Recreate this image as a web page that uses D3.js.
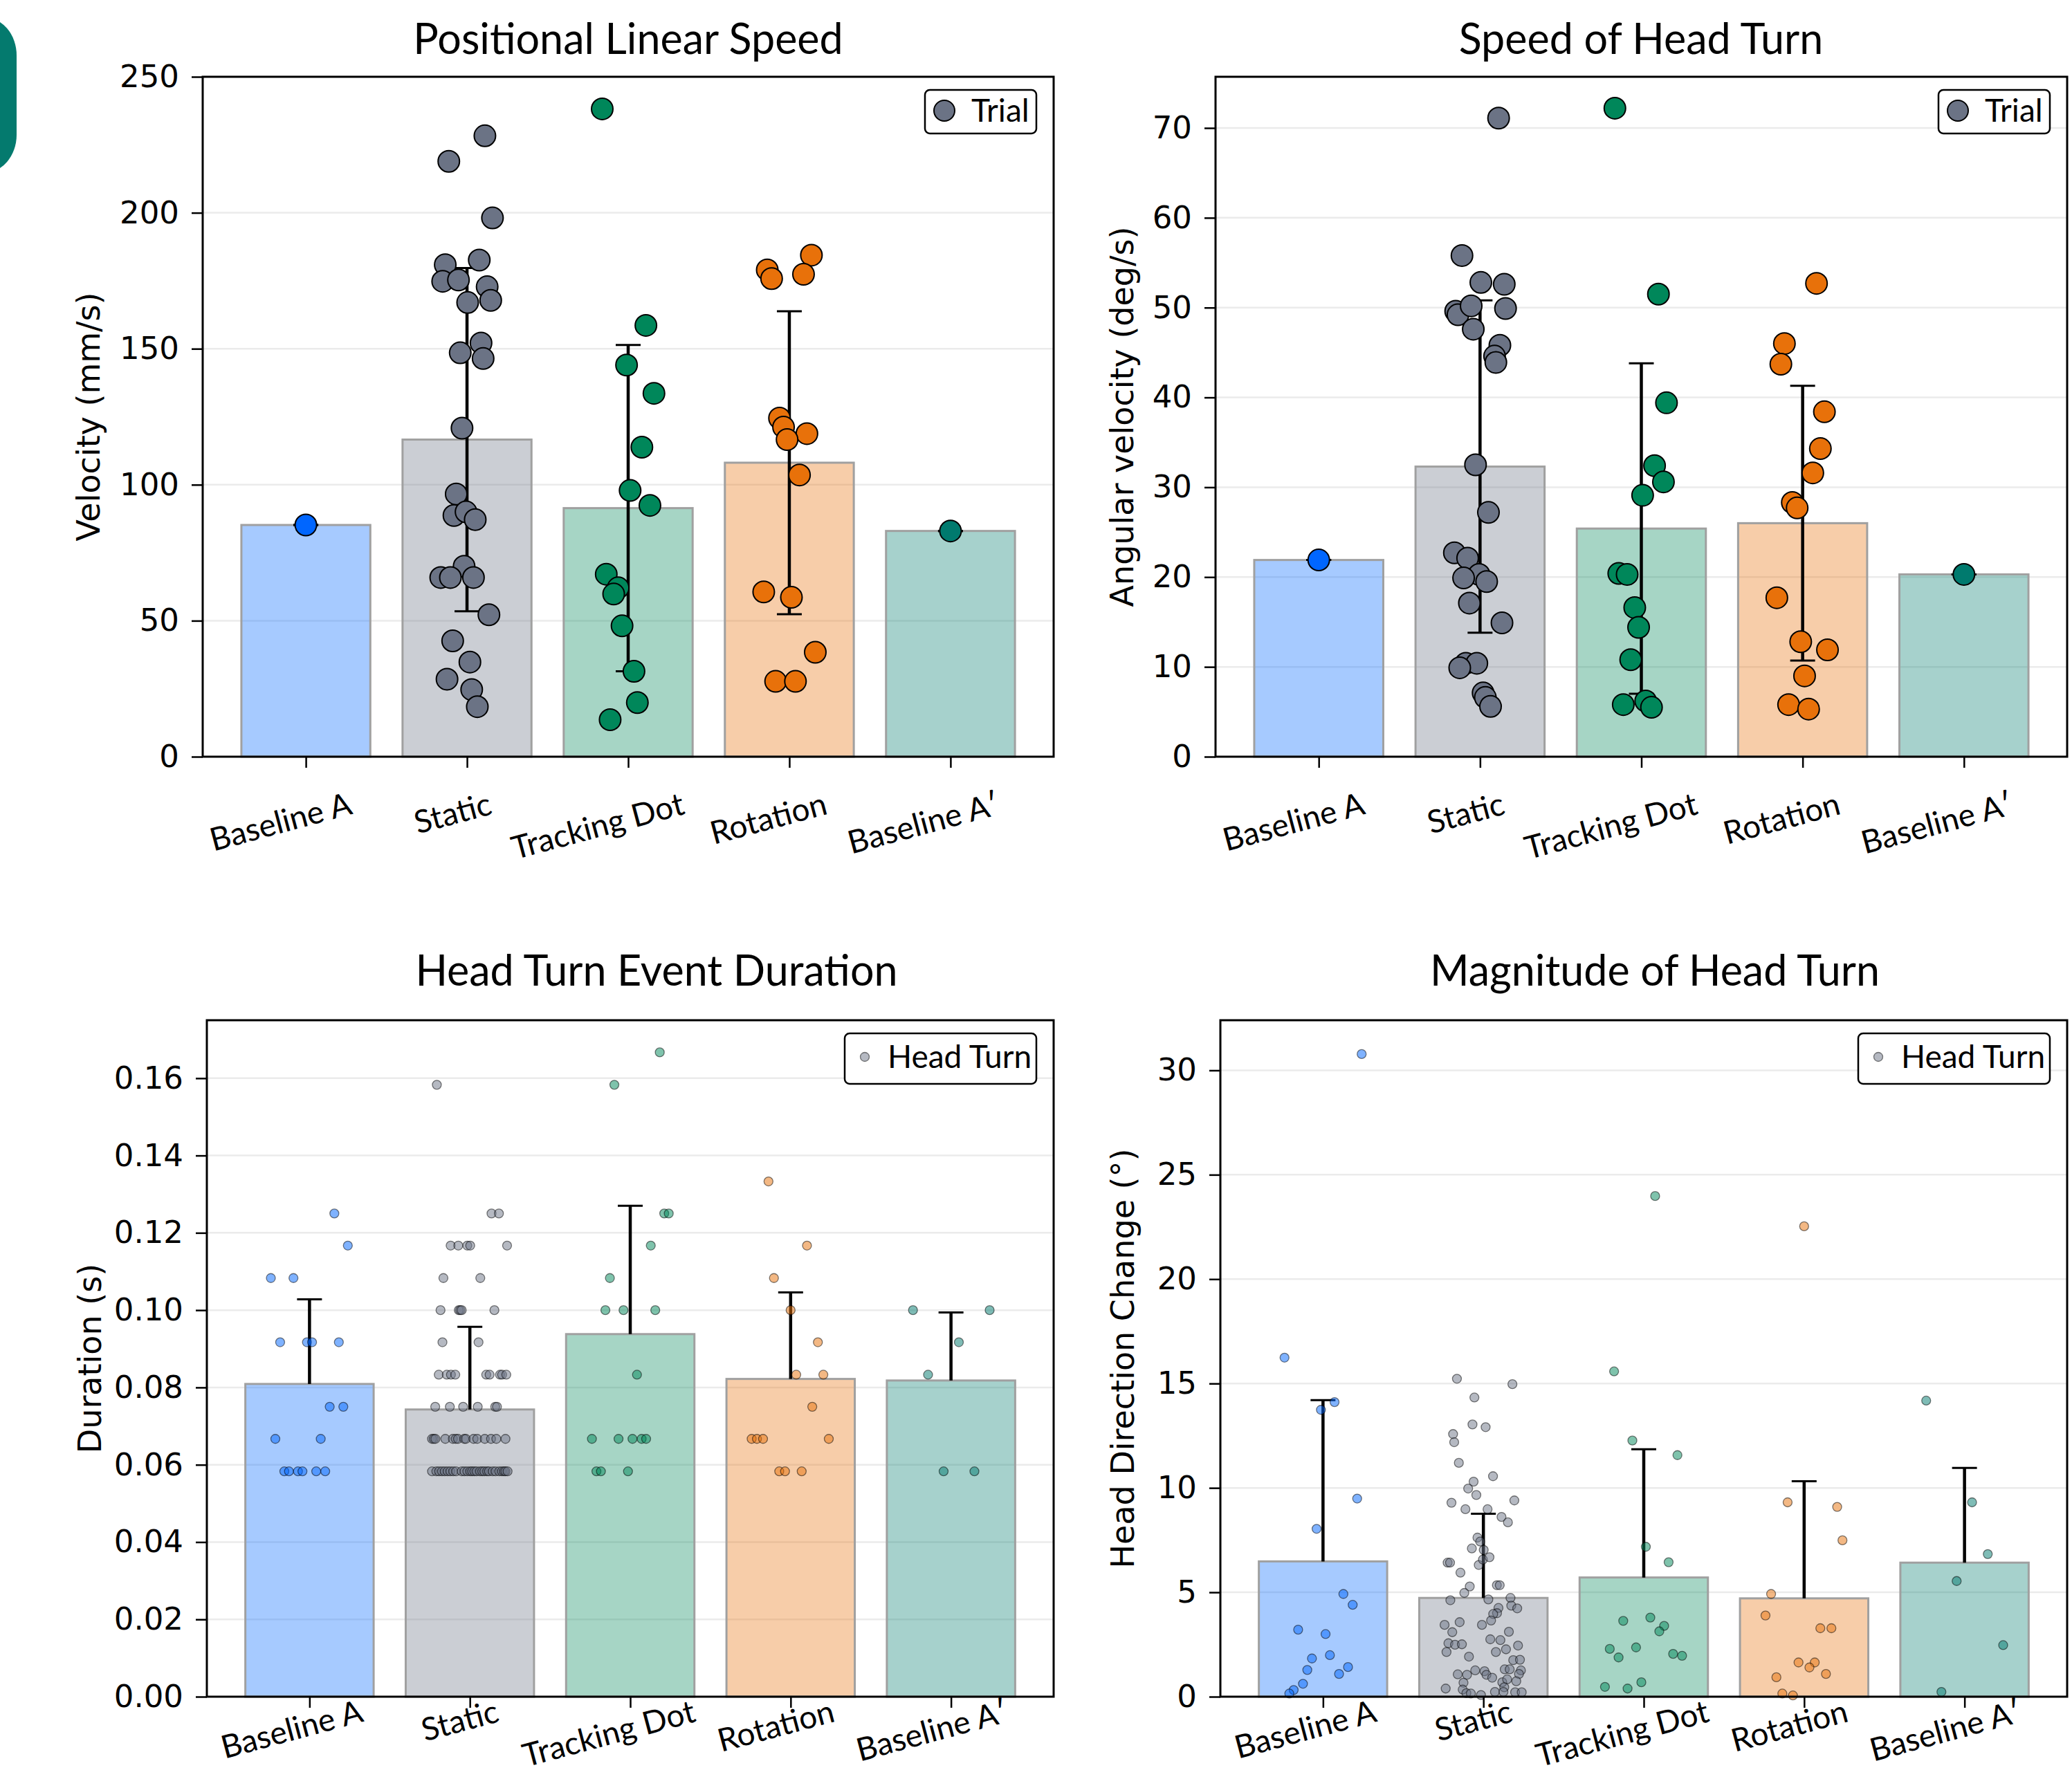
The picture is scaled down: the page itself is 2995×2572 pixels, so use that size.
<!DOCTYPE html>
<html>
<head>
<meta charset="UTF-8" />
<title>Head turn metrics</title>
<script src="https://d3js.org/d3.v7.min.js"></script>
<style>
  body { margin: 0; background: #fff; }
  .lab { font-family: Lato, "Open Sans", sans-serif; }
  .num { font-family: "DejaVu Sans", sans-serif; }
</style>
</head>
<body>
<svg id="fig" width="2995" height="2572"></svg>
<script>
// ---- data ----
const categories = ["Baseline A", "Static", "Tracking Dot", "Rotation", "Baseline A\u2032"];
const colors = ["#0066ff", "#6b7385", "#00875a", "#e8710a", "#007a6e"];

// Positional linear speed (mm/s): bar mean, SD, trial points [jitter, value]
const speedMean = [85.2, 116.6, 91.4, 108.1, 83.0];
const speedSD = [0, 63.1, 60.0, 55.7, 0];
const speedTrials = [
  [[0, 85.2]],
  [[0.111, 228.3], [-0.113, 218.9], [0.158, 198.1], [0.076, 182.6], [-0.135, 180.9], [-0.151, 174.8],
   [-0.053, 175.3], [0.125, 172.8], [0.147, 167.8], [0.004, 167.0], [0.087, 152.1], [-0.042, 148.5],
   [0.1, 146.4], [-0.031, 120.8], [-0.067, 96.6], [-0.081, 88.7], [-0.006, 90.0], [0.051, 87.2],
   [-0.018, 70.0], [-0.163, 65.9], [-0.103, 65.9], [0.04, 65.9], [0.136, 52.2], [-0.089, 42.6],
   [0.018, 34.8], [-0.124, 28.5], [0.029, 24.7], [0.064, 18.4]],
  [[-0.161, 238.2], [0.110, 158.6], [-0.010, 144.0], [0.160, 133.6], [0.085, 113.8], [0.012, 97.9],
   [0.135, 92.4], [-0.136, 67.1], [-0.062, 62.1], [-0.090, 59.8], [-0.038, 48.1], [0.036, 31.4],
   [0.057, 19.9], [-0.112, 13.6]],
  [[0.137, 184.4], [-0.137, 179.0], [-0.110, 175.8], [0.088, 177.4], [-0.061, 124.5], [-0.036, 121.2],
   [0.109, 118.8], [-0.014, 116.6], [0.063, 103.6], [-0.159, 60.6], [0.013, 58.6], [0.161, 38.4],
   [-0.085, 27.7], [0.038, 27.7]],
  [[0, 83.0]]
];

// Speed of head turn (deg/s)
const turnSpeedMean = [21.9, 32.3, 25.4, 26.0, 20.3];
const turnSpeedSD = [0, 18.5, 18.4, 15.3, 0];
const turnSpeedTrials = [
  [[0, 21.9]],
  [[0.115, 71.1], [-0.112, 55.8], [0.005, 52.8], [0.150, 52.6], [-0.151, 49.6], [-0.137, 49.2],
   [-0.055, 50.2], [0.158, 49.9], [-0.042, 47.6], [0.123, 45.8], [0.090, 44.6], [0.098, 43.9],
   [-0.028, 32.5], [0.052, 27.2], [-0.159, 22.7], [-0.077, 22.1], [-0.006, 20.3], [-0.102, 19.9],
   [0.041, 19.5], [-0.066, 17.1], [0.136, 14.9], [-0.088, 10.4], [-0.020, 10.4], [-0.126, 9.9],
   [0.019, 7.1], [0.033, 6.6], [0.065, 5.6]],
  [[-0.164, 72.2], [0.106, 51.5], [0.156, 39.4], [0.082, 32.4], [0.137, 30.6], [0.008, 29.1],
   [-0.140, 20.4], [-0.088, 20.3], [-0.041, 16.6], [-0.017, 14.4], [-0.066, 10.8], [-0.112, 5.8],
   [0.027, 6.2], [0.063, 5.5]],
  [[0.086, 52.7], [-0.113, 46.0], [-0.135, 43.7], [0.135, 38.4], [0.110, 34.3], [0.063, 31.6],
   [-0.064, 28.3], [-0.034, 27.7], [-0.160, 17.7], [-0.012, 12.8], [0.154, 11.9], [0.012, 9.0],
   [-0.087, 5.8], [0.037, 5.3]],
  [[0, 20.3]]
];

// Head turn event duration (s)
const durationMean = [0.0809, 0.0743, 0.0938, 0.0822, 0.0818];
const durationSD = [0.0219, 0.0214, 0.0332, 0.0224, 0.0176];
const durationTurns = [
  [[-0.241, 0.1083], [-0.100, 0.1083], [0.155, 0.125], [0.239, 0.1167], [-0.183, 0.0917], [-0.016, 0.0917],
   [0.016, 0.0917], [0.183, 0.0917], [0.126, 0.075], [0.211, 0.075], [-0.213, 0.0667], [0.070, 0.0667],
   [-0.157, 0.0583], [-0.128, 0.0583], [-0.072, 0.0583], [-0.044, 0.0583], [0.042, 0.0583], [0.098, 0.0583]],
  [[-0.206, 0.1583], [0.135, 0.125], [0.181, 0.125],
   [-0.120, 0.1167], [-0.072, 0.1167], [-0.016, 0.1167], [0.002, 0.1167], [0.232, 0.1167],
   [-0.165, 0.1083], [0.065, 0.1083],
   [-0.183, 0.1], [-0.069, 0.1], [-0.060, 0.1], [-0.051, 0.1], [0.153, 0.1],
   [-0.171, 0.0917], [0.054, 0.0917],
   [-0.194, 0.0833], [-0.144, 0.0833], [-0.118, 0.0833], [-0.091, 0.0833], [0.102, 0.0833], [0.123, 0.0833],
   [0.188, 0.0833], [0.201, 0.0833], [0.227, 0.0833],
   [-0.216, 0.075], [-0.125, 0.075], [-0.042, 0.075], [0.049, 0.075], [0.158, 0.075], [0.169, 0.075],
   [-0.236, 0.0667], [-0.225, 0.0667], [-0.215, 0.0667], [-0.153, 0.0667], [-0.106, 0.0667], [-0.088, 0.0667],
   [-0.074, 0.0667], [-0.035, 0.0667], [-0.025, 0.0667], [0.023, 0.0667], [0.046, 0.0667], [0.093, 0.0667],
   [0.132, 0.0667], [0.165, 0.0667], [0.222, 0.0667],
   [-0.236, 0.0583], [-0.209, 0.0583], [-0.192, 0.0583], [-0.174, 0.0583], [-0.157, 0.0583], [-0.139, 0.0583],
   [-0.122, 0.0583], [-0.104, 0.0583], [-0.086, 0.0583], [-0.051, 0.0583], [-0.034, 0.0583], [-0.016, 0.0583],
   [0.002, 0.0583], [0.014, 0.0583], [0.028, 0.0583], [0.042, 0.0583], [0.063, 0.0583], [0.077, 0.0583],
   [0.090, 0.0583], [0.107, 0.0583], [0.119, 0.0583], [0.142, 0.0583], [0.160, 0.0583], [0.183, 0.0583],
   [0.200, 0.0583], [0.213, 0.0583], [0.222, 0.0583], [0.235, 0.0583]],
  [[0.184, 0.1667], [-0.099, 0.1583], [0.212, 0.125], [0.240, 0.125], [0.128, 0.1167], [-0.127, 0.1083],
   [-0.155, 0.1], [-0.042, 0.1], [0.156, 0.1], [0.042, 0.0833],
   [-0.239, 0.0667], [-0.073, 0.0667], [0.014, 0.0667], [0.071, 0.0667], [0.099, 0.0667],
   [-0.211, 0.0583], [-0.183, 0.0583], [-0.014, 0.0583]],
  [[-0.138, 0.1333], [0.102, 0.1167], [-0.104, 0.1083], [0, 0.1], [0.170, 0.0917], [0.035, 0.0833],
   [0.204, 0.0833], [0.135, 0.075], [-0.243, 0.0667], [-0.210, 0.0667], [-0.172, 0.0667], [0.238, 0.0667],
   [-0.071, 0.0583], [-0.035, 0.0583], [0.069, 0.0583]],
  [[-0.237, 0.1], [0.241, 0.1], [0.049, 0.0917], [-0.143, 0.0833], [-0.046, 0.0583], [0.146, 0.0583]]
];

// Magnitude of head turn (deg)
const magnitudeMean = [6.48, 4.73, 5.71, 4.71, 6.42];
const magnitudeSD = [7.72, 4.03, 6.14, 5.61, 4.54];
const magnitudeTurns = [
  [[0.241, 30.78], [-0.240, 16.24], [0.072, 14.11], [-0.013, 13.74], [0.213, 9.49], [-0.040, 8.04],
   [0.127, 4.92], [0.185, 4.40], [-0.155, 3.21], [0.016, 3.00], [-0.069, 1.83], [0.043, 1.99],
   [-0.098, 1.28], [0.156, 1.42], [0.100, 1.09], [-0.125, 0.62], [-0.183, 0.32], [-0.210, 0.15]],
  [[-0.165, 15.23], [0.181, 14.97], [-0.056, 14.33], [-0.068, 13.04], [0.014, 12.91], [-0.189, 12.58],
   [-0.182, 12.19], [-0.153, 11.20], [0.060, 10.56], [-0.061, 10.30], [-0.095, 9.97], [-0.044, 9.66],
   [-0.199, 9.29], [0.193, 9.40], [-0.112, 8.98], [0.026, 8.98], [0.113, 8.61], [0.153, 8.35],
   [-0.037, 7.62], [-0.020, 7.43], [-0.072, 7.10], [0.002, 7.03], [-0.223, 6.42], [-0.208, 6.42],
   [-0.029, 6.31], [-0.003, 6.57], [0.038, 6.68], [-0.143, 5.94], [-0.085, 5.28], [0.084, 5.34],
   [0.102, 5.34], [-0.119, 4.97], [-0.206, 4.62], [0.031, 4.66], [0.169, 4.73], [0.174, 4.36],
   [0.211, 4.23], [0.094, 4.25], [0.085, 4.00], [0.061, 3.96], [0.048, 3.65], [-0.148, 3.57],
   [-0.242, 3.44], [-0.009, 3.44], [-0.194, 3.09], [0.159, 3.11], [0.043, 2.75], [0.106, 2.71],
   [-0.218, 2.56], [-0.177, 2.49], [-0.134, 2.51], [-0.230, 2.14], [0.078, 2.14], [0.141, 2.27],
   [0.216, 2.45], [-0.090, 1.92], [0.186, 1.75], [0.228, 1.77], [-0.051, 1.26], [0.007, 1.22],
   [0.133, 1.31], [0.164, 1.31], [0.234, 1.26], [-0.160, 1.07], [-0.102, 1.05], [0.019, 1.05],
   [0.055, 0.91], [0.222, 1.09], [0.118, 0.69], [0.148, 0.83], [0.205, 0.74], [-0.124, 0.67],
   [-0.235, 0.39], [-0.129, 0.34], [0.130, 0.45], [-0.106, 0.17], [-0.078, 0.15], [-0.015, 0.08],
   [0.072, 0.23], [0.125, 0.23], [0.198, 0.21], [0.239, 0.21]],
  [[0.071, 23.98], [-0.185, 15.58], [-0.071, 12.27], [0.210, 11.57], [0.013, 7.18], [0.155, 6.44],
   [0.041, 3.79], [-0.128, 3.63], [0.127, 3.39], [0.097, 3.13], [-0.048, 2.36], [-0.212, 2.29],
   [0.183, 2.05], [0.239, 1.96], [-0.157, 1.88], [-0.015, 0.69], [-0.242, 0.47], [-0.101, 0.39]],
  [[0, 22.53], [-0.103, 9.31], [0.206, 9.09], [0.239, 7.49], [-0.206, 4.92], [-0.241, 3.89],
   [0.101, 3.28], [0.170, 3.28], [-0.035, 1.64], [0.066, 1.64], [0.033, 1.40], [0.136, 1.09],
   [-0.173, 0.93], [-0.136, 0.15], [-0.070, 0.06]],
  [[-0.239, 14.18], [0.047, 9.31], [0.145, 6.83], [-0.049, 5.54], [0.241, 2.47], [-0.144, 0.23]]
];

const speedTicks = [0, 50, 100, 150, 200, 250];
const turnSpeedTicks = [0, 10, 20, 30, 40, 50, 60, 70];
const durationTicks = [0, 0.02, 0.04, 0.06, 0.08, 0.10, 0.12, 0.14, 0.16];
const magnitudeTicks = [0, 5, 10, 15, 20, 25, 30];

// ---- layout ----
const panels = [
  { title: "Positional Linear Speed", ylabel: "Velocity (mm/s)", mean: speedMean, sd: speedSD, pts: speedTrials,
    ticks: speedTicks, ymax: 250, fmt: d3.format("d"), x0: 293, x1: 1523, y0: 111, y1: 1094,
    titleX: 908, titleY: 78, ylabX: 128, big: true, legend: "Trial", legW: 161, labTop: 1133, labShift: 0.17 },
  { title: "Speed of Head Turn", ylabel: "Angular velocity (deg/s)", mean: turnSpeedMean, sd: turnSpeedSD, pts: turnSpeedTrials,
    ticks: turnSpeedTicks, ymax: 75.7, fmt: d3.format("d"), x0: 1757, x1: 2988, y0: 111, y1: 1094,
    titleX: 2372, titleY: 78, ylabX: 1622, big: true, legend: "Trial", legW: 161, labTop: 1133, labShift: 0.17 },
  { title: "Head Turn Event Duration", ylabel: "Duration (s)", mean: durationMean, sd: durationSD, pts: durationTurns,
    ticks: durationTicks, ymax: 0.175, fmt: d3.format(".2f"), x0: 299, x1: 1523, y0: 1475, y1: 2453,
    titleX: 949, titleY: 1425, ylabX: 130, big: false, legend: "Head Turn", legW: 277, labTop: 2445, labShift: 0.12 },
  { title: "Magnitude of Head Turn", ylabel: "Head Direction Change (\u00b0)", mean: magnitudeMean, sd: magnitudeSD, pts: magnitudeTurns,
    ticks: magnitudeTicks, ymax: 32.4, fmt: d3.format("d"), x0: 1764, x1: 2988, y0: 1475, y1: 2453,
    titleX: 2392, titleY: 1425, ylabX: 1623, big: false, legend: "Head Turn", legW: 277, labTop: 2445, labShift: 0.12 }
];

const svg = d3.select("#fig");
svg.append("rect").attr("width", 2995).attr("height", 2572).attr("fill", "#fff");

// teal badge clipped at the left edge
svg.append("rect").attr("x", -70).attr("y", 25).attr("width", 94).attr("height", 225)
  .attr("rx", 55).attr("fill", "#047a6e");

const rot = 15 * Math.PI / 180;

panels.forEach(p => {
  const g = svg.append("g");
  const x = d3.scaleLinear().domain([-0.64, 4.64]).range([p.x0, p.x1]);
  const y = d3.scaleLinear().domain([0, p.ymax]).range([p.y1, p.y0]);
  const bw = x(0.8) - x(0);

  // grid
  g.selectAll(".grid").data(p.ticks.slice(1)).join("line")
    .attr("x1", p.x0).attr("x2", p.x1).attr("y1", d => y(d)).attr("y2", d => y(d))
    .attr("stroke", "#ebebeb").attr("stroke-width", 2.5);

  // bars
  g.selectAll(".bar").data(p.mean).join("rect")
    .attr("x", (d, i) => x(i) - bw / 2).attr("width", bw)
    .attr("y", d => y(d)).attr("height", d => y(0) - y(d))
    .attr("fill", (d, i) => colors[i]).attr("fill-opacity", 0.35)
    .attr("stroke", "#a0a0a0").attr("stroke-width", 3);

  // error bars
  const eb = g.selectAll(".eb").data(p.mean).join("g");
  eb.append("line")
    .attr("x1", (d, i) => x(i)).attr("x2", (d, i) => x(i))
    .attr("y1", (d, i) => p.big ? y(d - p.sd[i]) : y(d))
    .attr("y2", (d, i) => y(d + p.sd[i]))
    .attr("stroke", "#000").attr("stroke-width", 4.5);
  eb.append("line")
    .attr("x1", (d, i) => x(i) - 18).attr("x2", (d, i) => x(i) + 18)
    .attr("y1", (d, i) => y(d + p.sd[i])).attr("y2", (d, i) => y(d + p.sd[i]))
    .attr("stroke", "#000").attr("stroke-width", 3);
  if (p.big) {
    eb.append("line")
      .attr("x1", (d, i) => x(i) - 18).attr("x2", (d, i) => x(i) + 18)
      .attr("y1", (d, i) => y(d - p.sd[i])).attr("y2", (d, i) => y(d - p.sd[i]))
      .attr("stroke", "#000").attr("stroke-width", 3);
  }

  // points
  p.pts.forEach((arr, i) => {
    g.selectAll(null).data(arr).join("circle")
      .attr("cx", d => x(i + d[0])).attr("cy", d => y(d[1]))
      .attr("r", p.big ? 15.5 : 6.5)
      .attr("fill", colors[i]).attr("fill-opacity", p.big ? 1 : 0.5)
      .attr("stroke", p.big ? "#000" : "rgba(0,0,0,0.5)").attr("stroke-width", p.big ? 2 : 1.3);
  });

  // frame
  g.append("rect").attr("x", p.x0).attr("y", p.y0).attr("width", p.x1 - p.x0).attr("height", p.y1 - p.y0)
    .attr("fill", "none").attr("stroke", "#000").attr("stroke-width", 3);

  // y axis
  const ya = g.append("g").attr("transform", `translate(${p.x0},0)`)
    .call(d3.axisLeft(y).tickValues(p.ticks).tickFormat(p.fmt).tickSize(16).tickPadding(18));
  ya.select(".domain").remove();
  ya.selectAll("line").attr("stroke-width", 2.5);
  ya.selectAll("text").attr("class", "num").attr("font-size", 45).attr("fill", "#000");

  // x axis ticks
  const xa = g.append("g").attr("transform", `translate(0,${p.y1})`)
    .call(d3.axisBottom(x).tickValues(d3.range(categories.length)).tickFormat("").tickSize(16));
  xa.select(".domain").remove();
  xa.selectAll("line").attr("stroke-width", 2.5);

  // rotated category labels
  categories.forEach((c, i) => {
    const lg = g.append("g");
    const t = lg.append("text").attr("class", "lab").attr("font-size", 46)
      .attr("text-anchor", "middle").attr("dominant-baseline", "central").text(c);
    const bb = t.node().getBBox();
    const w = bb.width * Math.cos(rot) + bb.height * Math.sin(rot);
    const h = bb.width * Math.sin(rot) + bb.height * Math.cos(rot);
    lg.attr("transform", `translate(${x(i) - p.labShift * w},${p.labTop + h / 2}) rotate(-15)`);
  });

  // title
  g.append("text").attr("class", "lab").attr("x", p.titleX).attr("y", p.titleY)
    .attr("text-anchor", "middle").attr("font-size", 61).text(p.title);

  // y label
  g.append("text").attr("class", "num").attr("font-size", 46)
    .attr("transform", `translate(${p.ylabX},${(p.y0 + p.y1) / 2}) rotate(-90)`)
    .attr("text-anchor", "middle").attr("dominant-baseline", "central").text(p.ylabel);

  // legend
  const lx = p.x1 - 25 - p.legW, ly = p.y0 + 19;
  const leg = g.append("g").attr("transform", `translate(${lx},${ly})`);
  leg.append("rect").attr("width", p.legW).attr("height", p.big ? 63 : 73).attr("rx", 7)
    .attr("fill", "#fff").attr("stroke", "#000").attr("stroke-width", 2.5);
  leg.append("circle").attr("cx", p.big ? 28 : 29).attr("cy", p.big ? 30 : 34)
    .attr("r", p.big ? 15 : 6.5).attr("fill", colors[1]).attr("fill-opacity", p.big ? 1 : 0.5)
    .attr("stroke", p.big ? "#000" : "rgba(0,0,0,0.5)").attr("stroke-width", p.big ? 2 : 1.3);
  leg.append("text").attr("class", "lab").attr("x", p.big ? 67 : 62).attr("y", p.big ? 46 : 50)
    .attr("font-size", 46).text(p.legend);
});
</script>
</body>
</html>
